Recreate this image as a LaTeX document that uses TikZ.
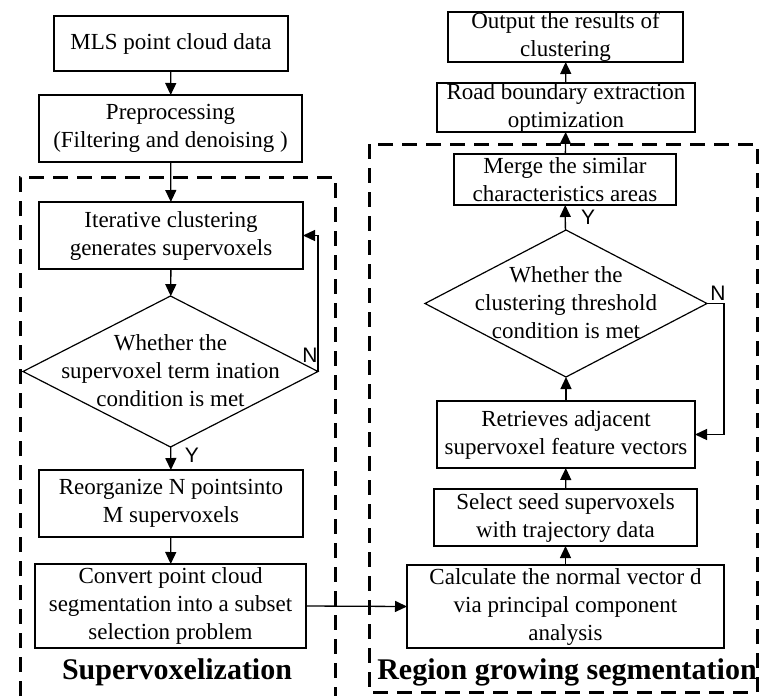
\documentclass[tikz,border=0pt]{standalone}
\usepackage{fontspec}
\setmainfont{Liberation Serif}
\newfontfamily\ynfont{Liberation Sans}
\usetikzlibrary{shapes.geometric,arrows.meta}
\tikzset{
  box/.style={draw, line width=0.6pt, align=center, inner sep=0pt, outer sep=0pt, font=\fontsize{11.5}{14}\selectfont},
  decision/.style={draw, diamond, line width=0.6pt, inner sep=0pt, outer sep=0pt},
  decisiontext/.style={align=center, inner sep=0pt, font=\fontsize{11.5}{14}\selectfont},
  flow/.style={line width=0.65pt, -{Triangle[length=6pt,width=5.5pt]}},
  region/.style={line width=1.5pt, dash pattern=on 7.5pt off 4.5pt},
  regiontitle/.style={font=\fontsize{15}{18}\selectfont\bfseries},
  yn/.style={font=\ynfont\fontsize{10.5}{12}\selectfont}
}

\begin{document}
\begin{tikzpicture}[x=0.5pt,y=-0.5pt]
\useasboundingbox (0,0) rectangle (760,696);
\draw[region] (20,696) -- (20,177) -- (335,177) -- (335,696);
\draw[region] (369,144) rectangle (757,692);

\node[box, minimum width=117pt, minimum height=27.5pt] (mls) at (171,43.5) {MLS point cloud data};
\node[box, minimum width=131.5pt, minimum height=33.5pt] (pre) at (170.5,128.5) {Preprocessing\\(Filtering and denoising )};
\node[box, minimum width=132pt, minimum height=33.5pt] (iter) at (171,235.5) {Iterative clustering\\generates supervoxels};
\node[decision, minimum width=147.5pt, minimum height=75.5pt] (cond1) at (170.5,371.5) {};
\node[decisiontext] (cond1text) at (170.5,371) {Whether the\\supervoxel term ination\\condition is met};
\node[box, minimum width=132pt, minimum height=33.5pt] (reorg) at (171,503.5) {Reorganize N pointsinto\\M supervoxels};
\node[box, minimum width=135.5pt, minimum height=42pt] (conv) at (170.5,606) {Convert point cloud\\segmentation into a subset\\selection problem};
\node[regiontitle] (supertitle) at (177,672) {Supervoxelization};

\node[box, minimum width=117.5pt, minimum height=25pt] (out) at (565.5,37) {Output the results of\\clustering};
\node[box, minimum width=129pt, minimum height=23.5pt] (road) at (566,107.5) {Road boundary extraction\\optimization};
\node[box, minimum width=111pt, minimum height=25.5pt] (merge) at (565,179.5) {Merge the similar\\characteristics areas};
\node[decision, minimum width=141pt, minimum height=73.5pt] (cond2) at (566,303.5) {};
\node[decisiontext] (cond2text) at (566,303) {Whether the\\clustering threshold\\condition is met};
\node[box, minimum width=129pt, minimum height=33.5pt] (retr) at (566,434.5) {Retrieves adjacent\\supervoxel feature vectors};
\node[box, minimum width=131.5pt, minimum height=28.5pt] (sel) at (565.5,517.5) {Select seed supervoxels\\with trajectory data};
\node[box, minimum width=158.5pt, minimum height=41.5pt] (calc) at (565.5,606.5) {Calculate the normal vector d\\via principal component\\analysis};
\node[regiontitle] (growtitle) at (567,672) {Region growing segmentation};

\node[yn] (n1) at (310,355) {N};
\node[yn] (y1) at (192,455) {Y};
\node[yn] (n2) at (718,293) {N};
\node[yn] (y2) at (588,217) {Y};

\draw[flow] (mls) -- (pre);
\draw[flow] (pre) -- (iter);
\draw[flow] (iter) -- (cond1);
\draw[flow] (cond1) -- (reorg);
\draw[flow] (reorg) -- (conv);
\draw[flow] (cond1.east) |- (iter.east);
\draw[flow] (conv.east) -- (calc.west);
\draw[flow] (calc) -- (sel);
\draw[flow] (sel) -- (retr);
\draw[flow] (retr) -- (cond2);
\draw[flow] (cond2) -- (merge);
\draw[flow] (merge) -- (road);
\draw[flow] (road) -- (out);
\draw[flow] (cond2.east) -- ++(17,0) |- (retr.east);
\end{tikzpicture}
\end{document}
